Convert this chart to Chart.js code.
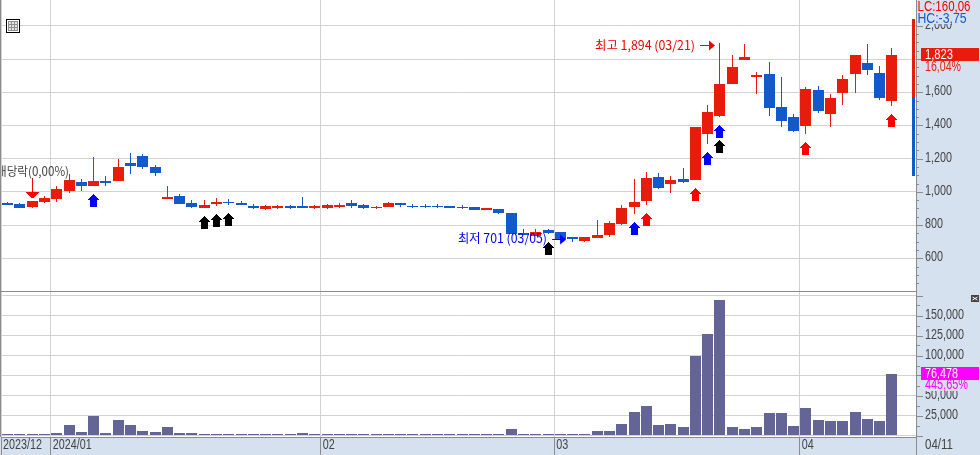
<!DOCTYPE html>
<html><head><meta charset="utf-8">
<style>
html,body{margin:0;padding:0;background:#fff;width:980px;height:455px;overflow:hidden}
canvas{position:absolute;left:0;display:block}
#p{top:0}#v{top:292px}
</style>
<script src="https://cdn.jsdelivr.net/npm/chart.js@4/dist/chart.umd.min.js"></script>
</head><body>
<canvas id="p" width="980" height="292"></canvas>
<canvas id="v" width="980" height="163"></canvas>
<script>
const dates=['12/22','12/26','12/27','12/28',
'01/02','01/03','01/04','01/05','01/08','01/09','01/10','01/11','01/12','01/15','01/16','01/17','01/18','01/19','01/22','01/23','01/24','01/25','01/26','01/29','01/30','01/31',
'02/01','02/02','02/05','02/06','02/07','02/08','02/13','02/14','02/15','02/16','02/19','02/20','02/21','02/22','02/23','02/26','02/27','02/28','02/29',
'03/04','03/05','03/06','03/07','03/08','03/11','03/12','03/13','03/14','03/15','03/18','03/19','03/20','03/21','03/22','03/25','03/26','03/27','03/28','03/29',
'04/01','04/02','04/03','04/04','04/05','04/08','04/09','04/11'];
const opens=[933,927,909,939,957,1005,1060,1036,1066,1066,1174,1216,1150,957,975,933,903,927,941,933,915,897,903,915,915,903,903,909,933,921,903,909,933,915,915,915,915,909,909,891,897,873,752,734,771,758,728,704,722,740,807,909,945,1090,1048,1078,1072,1349,1457,1650,1795,1692,1710,1511,1451,1397,1614,1469,1596,1710,1777,1716,1548];
const highs=[939,933,945,975,1035,1110,1078,1210,1096,1198,1234,1228,1162,1035,987,951,951,963,957,945,927,921,921,921,969,921,927,933,951,927,915,939,933,927,927,927,915,921,909,903,897,873,776,776,776,758,728,728,831,825,921,1078,1120,1114,1096,1144,1391,1523,1894,1825,1891,1722,1783,1692,1469,1632,1638,1590,1704,1825,1891,1758,1867];
const lows=[919,901,905,933,939,993,1005,1036,1036,1066,1108,1138,1096,957,927,903,903,915,921,921,897,891,897,897,903,897,897,903,903,897,897,909,909,903,903,903,903,897,891,891,867,746,740,734,746,714,701,701,722,728,801,867,921,1018,993,1054,1072,1289,1451,1650,1795,1590,1457,1391,1361,1349,1475,1391,1523,1596,1704,1554,1517];
const closes=[921,903,945,963,1017,1072,1036,1066,1054,1150,1156,1150,1114,969,927,909,921,939,935,921,903,915,915,903,903,915,921,921,915,903,909,933,921,911,911,911,903,905,891,903,873,746,740,758,752,716,716,728,740,813,903,939,1084,1024,1072,1060,1391,1481,1650,1752,1813,1704,1505,1427,1367,1620,1487,1566,1680,1825,1734,1566,1823];
const volumes=[1600,1600,1600,1600,2900,12900,4100,24100,2900,19100,12900,5400,4100,10400,2900,2900,1600,1600,1600,1600,1600,1600,1600,1600,2900,1600,1600,1600,1600,1600,1600,1600,1600,1600,1600,1600,1600,1600,1600,1600,1600,7900,1600,1600,1600,1600,1600,1600,5400,5400,14100,29100,36600,12900,14100,10400,99100,126600,169100,10400,7900,10400,27900,27900,11600,34100,19100,17900,17900,29100,20400,17900,76478];
const monthStarts=[-0.546,3.5,25.5,44.5,64.5];
const monthLabels=['2023/12','2024/01','02','03','04'];
const upSignalsBlue=[[7,948],[51,780],[57,1201],[58,1364]];
const upSignalsBlack=[[16,816],[17,828],[18,834],[44,659],[58,1274]];
const upSignalsRed=[[52,834],[56,984],[65,1261],[72,1430]];
const downSignalsRed=[[2,1018]];
const lcRange=[1570,2041], hcRange=[1098,1570], rangeBarX=73.76;
const xMin=-0.546, xMax=73.96;
const priceMin=403, priceMax=2156, volMin=-1875, volMax=179375;
const RED='#e81c0c', BLUE='#1259cc', VOLC='#646496', GRID='#d2d2d2', AXIS='#d6e1ef', EDGE='#8c8c8c', TXT='#444';
const AF='14px "Liberation Sans",sans-serif';
const idx=opens.map((_,i)=>i);

function upArrow(c){const k=document.createElement('canvas');k.width=13;k.height=13;const g=k.getContext('2d');g.fillStyle=c;
 for(let r=0;r<6;r++)g.fillRect(6-r,r,2*r+1,1);g.fillRect(3,6,7,7);return k;}
function downArrow(c){const k=document.createElement('canvas');k.width=13;k.height=20;const g=k.getContext('2d');g.fillStyle=c;
 g.fillRect(6,0,1,14);for(let r=0;r<6;r++)g.fillRect(r,14+r,13-2*r,1);return k;}

const snap={id:'snap',afterDatasetsUpdate(ch){
 ch.data.datasets.forEach((d,n)=>{ch.getDatasetMeta(n).data.forEach(el=>{
  el.x=Math.round(el.x-.5)+.5;
  if(d.type==='scatter'){el.y=Math.floor(el.y)+(d.tall?0:.5);return;}
  el.y=Math.round(el.y);el.base=Math.round(el.base);
  if(Math.abs(el.y-el.base)<1)el.base=el.y+1;
 });});
}};
function label(c,t,x,y,col,w,font,al){c.font=font||AF;c.fillStyle=col;c.textAlign=al||'left';c.textBaseline='middle';c.fillText(t,x,y,w);}
function narrow(c,t,x,y,col){c.font=AF;label(c,t,x,y,col,c.measureText(t).width*.77);}
function axisPlugin(major,minorLen){return {id:'tk',afterDraw(ch){const s=ch.scales.y,x=ch.scales.x,c=ch.ctx;c.save();c.strokeStyle=EDGE;c.lineWidth=1;
 s.ticks.forEach(t=>{const y=Math.round(s.getPixelForValue(t.value))+.5,l=t.value%major===0?7:minorLen;c.beginPath();c.moveTo(916,y);c.lineTo(916+l,y);c.stroke();
  if(t.label)narrow(c,t.label,925,y-1.5,TXT);});
 if(ch.canvas.id==='v')x.ticks.forEach(t=>{if(t.label)narrow(c,t.label,x.getPixelForValue(t.value)+2,153,TXT);});
 c.restore();}};}
function back(c,ch){c.save();c.fillStyle=AXIS;c.fillRect(916,0,64,ch.height);c.restore();}

const priceDeco={id:'deco',beforeDraw(ch){back(ch.ctx,ch);},
 afterDatasetsDraw(ch){const c=ch.ctx,X=ch.scales.x,Y=ch.scales.y;c.save();
  const k='12.5px "Noto Sans CJK KR",sans-serif';
  let ax=X.getPixelForValue(58)-5,ay=Math.round(Y.getPixelForValue(1894))+2.5;
  label(c,'최고 1,894 (03/21)',595,ay,'#f00000',100,k);
  c.strokeStyle='#f00000';c.fillStyle='#f00000';c.lineWidth=1;
  c.beginPath();c.moveTo(ax-15,ay);c.lineTo(ax-4,ay);c.stroke();
  c.beginPath();c.moveTo(ax-6,ay-5);c.lineTo(ax,ay);c.lineTo(ax-6,ay+5);c.fill();
  let bx=X.getPixelForValue(46)-6.5,by=Math.round(Y.getPixelForValue(701))-2.5;
  label(c,'최저 701 (03/05)',458,by-1,'#0000ff',89,k);
  c.strokeStyle='#0000ff';c.fillStyle='#0000ff';
  c.beginPath();c.moveTo(bx-14,by);c.lineTo(bx-4,by);c.stroke();
  c.beginPath();c.moveTo(bx-6,by-5);c.lineTo(bx,by);c.lineTo(bx-6,by+5);c.fill();
  label(c,'배당락(0,00%)',69,171,TXT,73,k,'right');
  c.fillStyle='#fff';c.fillRect(6,19,14,14);c.strokeStyle='#000';c.strokeRect(6.5,19.5,13,13);
  c.fillStyle='#8f8f8f';c.fillRect(8,21,10,10);c.fillStyle='#e4e4e4';
  [[9,22,2,2],[12,22,2,2],[15,22,2,2],[9,25,2,2],[12,25,2,2],[15,25,2,2],[9,28,2,2],[12,28,2,2],[15,28,2,2]].forEach(r=>c.fillRect(...r));
  c.restore();},
 afterDraw(ch){const c=ch.ctx,Y=ch.scales.y;c.save();
  c.fillStyle=AXIS;c.fillRect(917,0,63,24);c.fillRect(921,60,59,12);
  label(c,'LC:160,06',917.5,7,'#f00000',53);
  label(c,'HC:-3,75',917.5,19,BLUE,49);
  const cy=Math.round(Y.getPixelForValue(closes[closes.length-1]));
  c.fillStyle=RED;c.fillRect(921,cy-7,58,13);
  label(c,'1,823',925,cy,'#fff',28);
  label(c,'16,04%',925,cy+12,RED,36);
  c.fillStyle='#8c8c8c';c.fillRect(0,0,1,292);
  c.restore();}};

const volDeco={id:'deco',beforeDraw(ch){const c=ch.ctx;back(c,ch);c.save();c.fillStyle=AXIS;c.fillRect(0,145,980,18);c.restore();},
 afterDraw(ch){const c=ch.ctx,Y=ch.scales.y;c.save();
  c.fillStyle=AXIS;c.fillRect(921,88,59,11);
  const cy=Math.round(Y.getPixelForValue(volumes[volumes.length-1]));
  c.fillStyle='#ff00ff';c.fillRect(921,cy-7,58,13);
  label(c,'76,478',925,cy,'#fff',33);
  label(c,'445,65%',925,cy+11,'#ff00ff',43);
  label(c,dates[dates.length-1],925,153,TXT,28);
  c.fillStyle='#444';c.fillRect(971,3,8,7);c.strokeStyle='#fff';c.lineWidth=1;
  c.beginPath();c.moveTo(972.5,5);c.lineTo(977.5,8);c.moveTo(972.5,8);c.lineTo(977.5,5);c.stroke();
  c.fillStyle='#8c8c8c';c.fillRect(0,0,1,145);c.fillRect(916,145,1,18);
  c.restore();}};

function xScale(h,showLabels){return {type:'linear',min:xMin,max:xMax,offset:false,
 afterBuildTicks(s){s.ticks=monthStarts.map(v=>({value:v}));},
 afterFit(s){s.height=h;s.paddingLeft=0;s.paddingRight=0;},
 grid:{offset:false,color:GRID,lineWidth:1,drawTicks:showLabels,tickLength:18,tickColor:EDGE},
 border:{display:true,color:EDGE,width:1},
 ticks:{display:showLabels,autoSkip:false,maxRotation:0,minRotation:0,color:'rgba(0,0,0,0)',
  callback(v){const i=monthStarts.indexOf(v);return i<0?'':monthLabels[i];}}};}
function yScale(min,max,step,major,hide){return {type:'linear',position:'right',min,max,
 afterBuildTicks(s){const out=[];for(let v=Math.ceil(min/step)*step;v<=max;v+=step)out.push({value:v});s.ticks=out;},
 afterFit(s){s.width=64;s.paddingTop=0;s.paddingBottom=0;},
 grid:{drawTicks:false,lineWidth:1,color:c=>c.tick&&c.tick.value%major===0?GRID:'rgba(0,0,0,0)'},
 border:{display:true,color:EDGE,width:1},
 ticks:{autoSkip:false,padding:9,color:'rgba(0,0,0,0)',
  callback(v){return v%major===0&&!hide.includes(v)?v.toLocaleString('en-US'):'';}}};}
const pts=a=>a.map(p=>({x:p[0],y:p[1]}));
const candleColor=c=>{const i=c.dataIndex;return i===undefined?RED:(closes[i]>=opens[i]?RED:BLUE);};
const scat=(a,c,tall)=>({type:'scatter',data:pts(a),pointStyle:c,pointRadius:7,showLine:false,order:1,tall:!!tall});

new Chart(document.getElementById('p'),{type:'bar',
 data:{datasets:[
  {label:'wick',data:idx.map(i=>({x:i,y:[lows[i],highs[i]]})),barThickness:1,backgroundColor:candleColor,order:4,grouped:false,inflateAmount:0},
  {label:'body',data:idx.map(i=>({x:i,y:[opens[i],closes[i]]})),barThickness:11,backgroundColor:candleColor,order:3,grouped:false,inflateAmount:0},
  {label:'lc',data:[{x:rangeBarX,y:lcRange}],barThickness:3,backgroundColor:RED,order:2,grouped:false,inflateAmount:0},
  {label:'hc',data:[{x:rangeBarX,y:hcRange}],barThickness:3,backgroundColor:BLUE,order:2,grouped:false,inflateAmount:0},
  scat(upSignalsBlue,upArrow('#0000ff')),
  scat(upSignalsBlack,upArrow('#000')),
  scat(upSignalsRed,upArrow('#ff0000')),
  scat(downSignalsRed,downArrow('#ff0000'),true)
 ]},
 options:{responsive:false,animation:false,events:[],devicePixelRatio:1,
  layout:{padding:{left:1},autoPadding:false},
  plugins:{legend:{display:false},tooltip:{enabled:false}},
  scales:{x:xScale(1,false),y:yScale(priceMin,priceMax,50,200,[])}},
 plugins:[snap,axisPlugin(200,3),priceDeco]});

new Chart(document.getElementById('v'),{type:'bar',
 data:{datasets:[{label:'volume',data:idx.map(i=>({x:i,y:volumes[i]})),barThickness:11,backgroundColor:VOLC,grouped:false,inflateAmount:0}]},
 options:{responsive:false,animation:false,events:[],devicePixelRatio:1,
  layout:{padding:{left:1},autoPadding:false},
  plugins:{legend:{display:false},tooltip:{enabled:false}},
  scales:{x:xScale(18,true),y:yScale(volMin,volMax,12500,25000,[0,175000,75000])}},
 plugins:[snap,axisPlugin(25000,4),volDeco]});
</script>
</body></html>
